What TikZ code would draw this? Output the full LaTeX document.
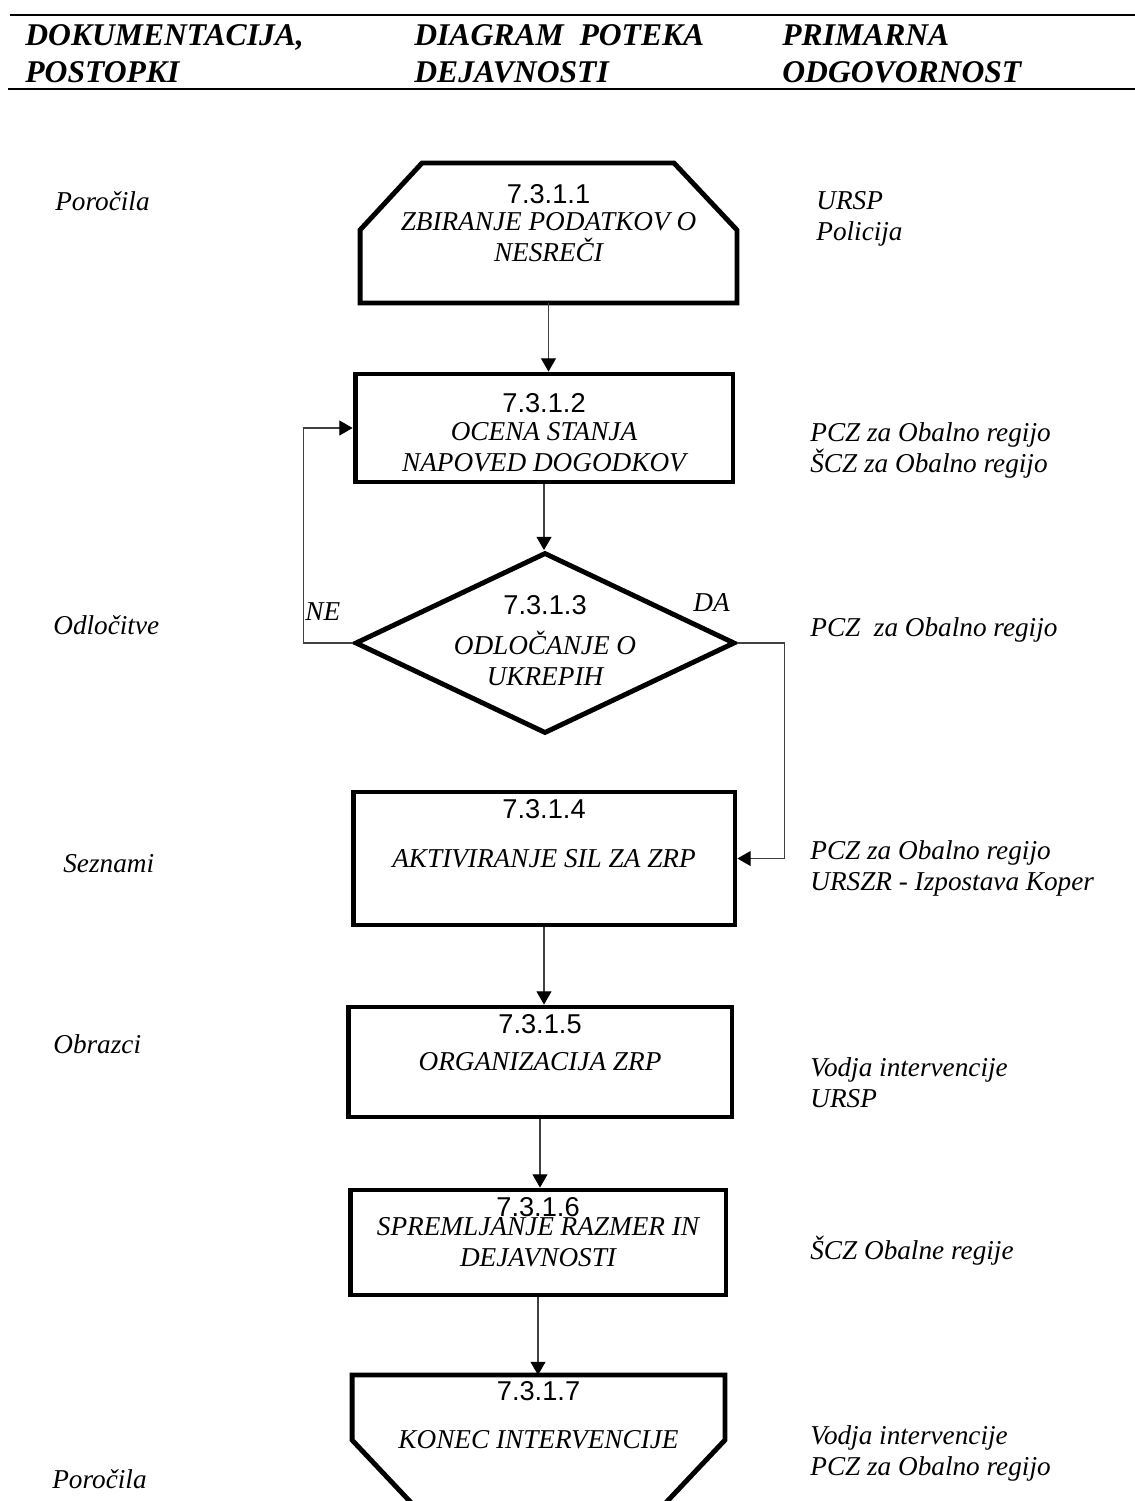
\documentclass[tikz,border=0pt]{standalone}
\usepackage{fontspec}
\setmainfont{Liberation Serif}
\setsansfont{Liberation Sans}
\usetikzlibrary{arrows.meta, positioning, shapes.geometric}

\newcommand{\txtfont}{\fontsize{15.5pt}{17.65pt}\selectfont\itshape}
\newcommand{\numfont}{\fontsize{15.5pt}{17.65pt}\selectfont\sffamily}
\newcommand{\headfont}{\fontsize{18pt}{21pt}\selectfont\bfseries\itshape}

\begin{document}
\begin{tikzpicture}[
    x = 0.02cm, y = -0.02cm, % one unit = one pixel of the page
    > = {Triangle[length=7.5pt, width=8.5pt, color=black]}, % arrow head style
    node distance = 0.4cm
]

\tikzstyle{box}=[
    draw = black,
    line width = 2.8pt,
    rectangle,
    inner sep = 0pt
]
\tikzstyle{cutbox}=[rectangle, inner sep = 0pt, outer sep = 0pt]
\tikzstyle{decision}=[draw = black, line width = 2.8pt, diamond, inner sep = 0pt]
\tikzstyle{num}=[font = \numfont, inner sep = 0pt]
\tikzstyle{txt}=[font = \txtfont, align = center, inner sep = 0pt]
\tikzstyle{side}=[font = \txtfont, align = left, anchor = west, inner sep = 0pt]
\tikzstyle{head}=[font = \headfont, align = left, anchor = west, inner sep = 0pt]
\tikzstyle{link}=[draw = black!75, line width = 0.6pt]
\tikzstyle{rule}=[line width = 1.4pt]

\useasboundingbox (0,0) rectangle (1135,1501);
\clip (0,0) rectangle (1135,1501);

% header
\draw[rule] (10,15) -- (1135,15);
\draw[rule] (8,89) -- (1135,89);
\node[head] (Dokumentacija) at (25,54) {DOKUMENTACIJA,\\POSTOPKI};
\node[head] (Diagram) at (414,54) {DIAGRAM\ \ POTEKA\\DEJAVNOSTI};
\node[head] (Primarna) at (782,54) {PRIMARNA\\ODGOVORNOST};

% flow
\node[cutbox, minimum width = 7.54cm, minimum height = 2.8cm] (Zbiranje) at (548.5,233) {};
\draw[line width = 2.8pt] (Zbiranje.south west) -- (Zbiranje.south east)
    -- ([yshift=-1.34cm]Zbiranje.north east) -- ([xshift=-1.26cm]Zbiranje.north east)
    -- ([xshift=1.24cm]Zbiranje.north west) -- ([yshift=-1.34cm]Zbiranje.north west) -- cycle;
\node[num, below = 0.42cm of Zbiranje.north] (Zbiranje st) {7.3.1.1};
\node[txt] (Zbiranje txt) at ([yshift=-0.08cm]Zbiranje.center) {ZBIRANJE PODATKOV O\\NESREČI};

\node[box, minimum width = 7.56cm, minimum height = 2.16cm] (Ocena) at (544,428) {};
\node[num, below = 0.43cm of Ocena.north] (Ocena st) {7.3.1.2};
\node[txt] (Ocena txt) at ([yshift=-0.39cm]Ocena.center) {OCENA STANJA\\NAPOVED DOGODKOV};

\node[decision, minimum width = 7.6cm, minimum height = 3.62cm] (Odlocanje) at (545,643) {};
\node[num, below = 0.9cm of Odlocanje.north] (Odlocanje st) {7.3.1.3};
\node[txt] (Odlocanje txt) at ([yshift=-0.3cm]Odlocanje.center) {ODLOČANJE O\\UKREPIH};

\node[box, minimum width = 7.64cm, minimum height = 2.66cm] (Aktiviranje) at (544,858.5) {};
\node[num, below = 0.19cm of Aktiviranje.north] (Aktiviranje st) {7.3.1.4};
\node[txt] (Aktiviranje txt) at (Aktiviranje.center) {AKTIVIRANJE SIL ZA ZRP};

\node[box, minimum width = 7.68cm, minimum height = 2.2cm] (Organizacija) at (540,1062) {};
\node[num, below = 0.19cm of Organizacija.north] (Organizacija st) {7.3.1.5};
\node[txt] (Organizacija txt) at (Organizacija.center) {ORGANIZACIJA ZRP};

\node[box, minimum width = 7.52cm, minimum height = 2.1cm] (Spremljanje) at (538,1242.5) {};
\node[num, below = 0.19cm of Spremljanje.north] (Spremljanje st) {7.3.1.6};
\node[txt] (Spremljanje txt) at (Spremljanje.center) {SPREMLJANJE RAZMER IN\\DEJAVNOSTI};

\node[cutbox, minimum width = 7.46cm, minimum height = 2.7cm] (Konec) at (538.5,1442.5) {};
\draw[line width = 2.8pt] (Konec.north west) -- (Konec.north east)
    -- ([yshift=1.4cm]Konec.south east) -- ([xshift=-1.32cm]Konec.south east)
    -- ([xshift=1.32cm]Konec.south west) -- ([yshift=1.4cm]Konec.south west) -- cycle;
\node[num, below = 0.12cm of Konec.north] (Konec st) {7.3.1.7};
\node[txt] (Konec txt) at ([yshift=0.05cm]Konec.center) {KONEC INTERVENCIJE};

\draw[link, ->] (Zbiranje) -- (Zbiranje |- Ocena.north);
\draw[link, ->] (Ocena) -- (Ocena |- Odlocanje.north);
\draw[link, ->] (Odlocanje.west) -- ++(-49,0) |- (Ocena.west);
\draw[link, ->] (Odlocanje.east) -- ++(47,0) |- (Aktiviranje.east);
\draw[link, ->] (Aktiviranje) -- (Aktiviranje |- Organizacija.north);
\draw[link, ->] (Organizacija) -- (Organizacija |- Spremljanje.north);
\draw[link, ->] (Spremljanje) -- (Spremljanje |- Konec.north);
\node[side] (NE) at (305,612) {NE};
\node[side] (DA) at (693,603) {DA};

% documents
\node[side] (Porocila) at (55,201) {Poročila};
\node[side] (Odlocitve) at (53,625) {Odločitve};
\node[side] (Seznami) at (63,864) {Seznami};
\node[side] (Obrazci) at (53,1044) {Obrazci};
\node[side] (Porocila konec) at (52,1479) {Poročila};

% responsibility
\node[side] (URSP) at (816,219) {URSP\\Policija};
\node[side] (PCZ Ocena) at (810,450) {PCZ za Obalno regijo\\ŠCZ za Obalno regijo};
\node[side] (PCZ Odlocanje) at (810,630) {PCZ\ \ za Obalno regijo};
\node[side] (PCZ Aktiviranje) at (810,868) {PCZ za Obalno regijo\\URSZR - Izpostava Koper};
\node[side] (Vodja) at (810,1083) {Vodja intervencije\\URSP};
\node[side] (SCZ) at (810,1251) {ŠCZ Obalne regije};
\node[side] (Vodja konec) at (810,1453) {Vodja intervencije\\PCZ za Obalno regijo};

\end{tikzpicture}
\end{document}
